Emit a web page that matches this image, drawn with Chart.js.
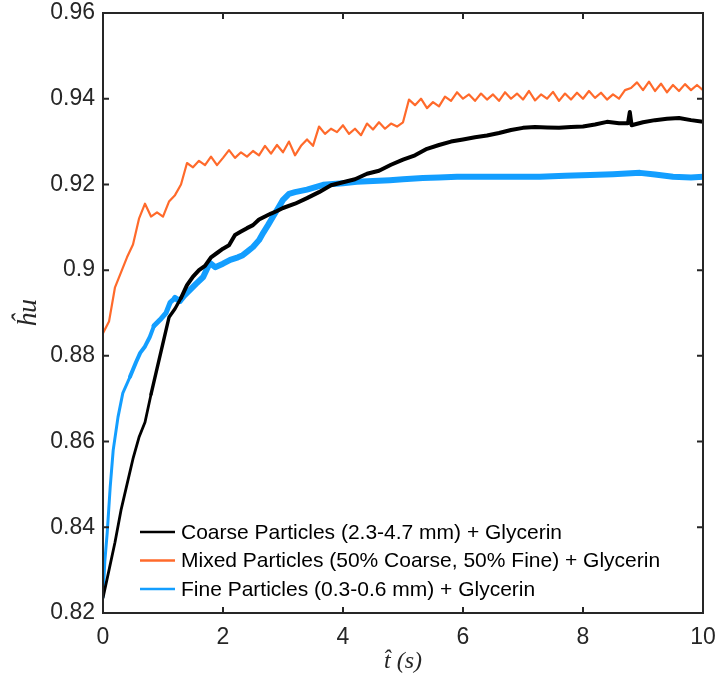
<!DOCTYPE html>
<html>
<head>
<meta charset="utf-8">
<script src="https://cdn.jsdelivr.net/npm/chart.js@4"></script>
<style>
  html, body { margin: 0; padding: 0; background: #fff; }
  #wrap { width: 715px; height: 680px; position: relative; }
</style>
</head>
<body>
<div id="wrap"><canvas id="chart"></canvas></div>
<script>
// Values (t in s, hu normalised)
const seriesLabels = [
    'Coarse Particles (2.3-4.7 mm) + Glycerin',
    'Mixed Particles (50% Coarse, 50% Fine) + Glycerin',
    'Fine Particles (0.3-0.6 mm) + Glycerin'
];

const coarseT = [0, 0.1, 0.2, 0.3, 0.4, 0.5, 0.6, 0.7, 0.8, 0.9, 1.0, 1.1, 1.2, 1.3, 1.4, 1.5, 1.6, 1.7, 1.8, 1.9,
    2.0, 2.1, 2.2, 2.3, 2.4, 2.5, 2.6, 2.7, 2.8, 2.9, 3.0, 3.2, 3.4, 3.6, 3.8, 4.0, 4.2, 4.4, 4.6, 4.8,
    5.0, 5.2, 5.4, 5.6, 5.8, 6.0, 6.2, 6.4, 6.6, 6.8, 7.0, 7.2, 7.4, 7.6, 7.8, 8.0, 8.2, 8.4, 8.6, 8.75,
    8.78, 8.81, 9.0, 9.2, 9.4, 9.6, 9.8, 10.0];
const coarseV = [0.8235, 0.8300, 0.8365, 0.8440, 0.8500, 0.8560, 0.8610, 0.8645, 0.8710, 0.8770, 0.8830, 0.8890, 0.8910, 0.8935, 0.8965, 0.8985, 0.9000, 0.9010, 0.9030, 0.9040,
    0.9050, 0.9058, 0.9082, 0.9090, 0.9098, 0.9105, 0.9118, 0.9125, 0.9132, 0.9138, 0.9145, 0.9155, 0.9168, 0.9182, 0.9198, 0.9205, 0.9212, 0.9225, 0.9232, 0.9246,
    0.9258, 0.9268, 0.9283, 0.9292, 0.9300, 0.9305, 0.9310, 0.9314, 0.9320, 0.9327, 0.9332, 0.9334, 0.9333, 0.9332, 0.9334, 0.9335, 0.9340, 0.9346, 0.9343, 0.9343,
    0.9369, 0.9338, 0.9345, 0.9350, 0.9353, 0.9355, 0.9350, 0.9346];

const mixedT = [0, 0.1, 0.2, 0.3, 0.4, 0.5, 0.6, 0.7, 0.8, 0.9, 1.0, 1.1, 1.2, 1.3, 1.4, 1.5, 1.6, 1.7, 1.8, 1.9,
    2.0, 2.1, 2.2, 2.3, 2.4, 2.5, 2.6, 2.7, 2.8, 2.9, 3.0, 3.1, 3.2, 3.3, 3.4, 3.5, 3.6, 3.7, 3.8, 3.9,
    4.0, 4.1, 4.2, 4.3, 4.4, 4.5, 4.6, 4.7, 4.8, 4.9, 5.0, 5.1, 5.2, 5.3, 5.4, 5.5, 5.6, 5.7, 5.8, 5.9,
    6.0, 6.1, 6.2, 6.3, 6.4, 6.5, 6.6, 6.7, 6.8, 6.9, 7.0, 7.1, 7.2, 7.3, 7.4, 7.5, 7.6, 7.7, 7.8, 7.9,
    8.0, 8.1, 8.2, 8.3, 8.4, 8.5, 8.6, 8.7, 8.8, 8.9, 9.0, 9.1, 9.2, 9.3, 9.4, 9.5, 9.6, 9.7, 9.8, 9.9, 10.0];
const mixedV = [0.8853, 0.8880, 0.8960, 0.8995, 0.9030, 0.9060, 0.9120, 0.9155, 0.9125, 0.9135, 0.9125, 0.9160, 0.9175, 0.9200, 0.9250, 0.9240, 0.9255, 0.9245, 0.9265, 0.9245,
    0.9262, 0.9280, 0.9262, 0.9275, 0.9265, 0.9278, 0.9268, 0.9290, 0.9272, 0.9292, 0.9275, 0.9300, 0.9268, 0.9290, 0.9305, 0.9290, 0.9335, 0.9318, 0.9330, 0.9322,
    0.9338, 0.9318, 0.9330, 0.9315, 0.9342, 0.9328, 0.9345, 0.9330, 0.9342, 0.9335, 0.9345, 0.9398, 0.9385, 0.9400, 0.9378, 0.9392, 0.9382, 0.9405, 0.9395, 0.9415,
    0.9400, 0.9410, 0.9395, 0.9412, 0.9398, 0.9410, 0.9395, 0.9415, 0.9400, 0.9412, 0.9398, 0.9418, 0.9396, 0.9410, 0.9400, 0.9416, 0.9395, 0.9412, 0.9398, 0.9414,
    0.9400, 0.9418, 0.9402, 0.9414, 0.9398, 0.9410, 0.9400, 0.9420, 0.9425, 0.9438, 0.9420, 0.9440, 0.9418, 0.9435, 0.9415, 0.9432, 0.9418, 0.9434, 0.9420, 0.9432, 0.9420];

const fineT = [0, 0.03, 0.07, 0.12, 0.17, 0.25, 0.33, 0.45, 0.55, 0.62, 0.7, 0.78, 0.85, 0.95, 1.05, 1.12, 1.2, 1.28, 1.35, 1.45,
    1.55, 1.67, 1.78, 1.87, 2.0, 2.12, 2.25, 2.33, 2.42, 2.5, 2.6, 2.67, 2.75, 2.83, 2.92, 3.0, 3.1, 3.2, 3.4, 3.67,
    4.0, 4.23, 4.5, 4.78, 5.0, 5.33, 5.6, 5.9, 6.2, 6.45, 6.8, 7.28, 7.7, 8.12, 8.5, 8.95, 9.2, 9.5, 9.8, 10.0];
const fineV = [0.8237, 0.8320, 0.8387, 0.8494, 0.8580, 0.8657, 0.8713, 0.8751, 0.8785, 0.8807, 0.8822, 0.8844, 0.8870, 0.8884, 0.8900, 0.8925, 0.8935, 0.8928, 0.8940, 0.8954,
    0.8968, 0.8984, 0.9017, 0.9007, 0.9015, 0.9024, 0.9030, 0.9035, 0.9045, 0.9054, 0.9070, 0.9087, 0.9105, 0.9124, 0.9145, 0.9164, 0.9178, 0.9182, 0.9188, 0.9199,
    0.9203, 0.9206, 0.9208, 0.9210, 0.9212, 0.9215, 0.9216, 0.9218, 0.9218, 0.9218, 0.9218, 0.9218, 0.9220, 0.9222, 0.9224, 0.9227, 0.9223, 0.9218, 0.9216, 0.9218];

const xTicks = [0, 2, 4, 6, 8, 10];
const yTicks = [0.82, 0.84, 0.86, 0.88, 0.9, 0.92, 0.94, 0.96];

const colors = ['#000000', '#ff6a2b', '#139eff'];
const axisColor = '#262626';
const sansFont = "'Liberation Sans', Arial, Helvetica, sans-serif";
const serifFont = "'Liberation Serif', 'Times New Roman', serif";

const toPoints = (ts, vs) => ts.map((t, i) => ({ x: t, y: vs[i] }));

// Box round the plot with inward tick marks on all four sides
const framePlugin = {
    id: 'frame',
    afterDatasetsDraw(chart) {
        const { ctx, chartArea: a, scales } = chart;
        ctx.save();
        ctx.strokeStyle = axisColor;
        ctx.lineWidth = 2;
        ctx.strokeRect(a.left, a.top, a.right - a.left, a.bottom - a.top);
        ctx.beginPath();
        scales.x.ticks.forEach(t => {
            const px = scales.x.getPixelForValue(t.value);
            ctx.moveTo(px, a.bottom); ctx.lineTo(px, a.bottom - 6);
            ctx.moveTo(px, a.top); ctx.lineTo(px, a.top + 6);
        });
        scales.y.ticks.forEach(t => {
            const py = scales.y.getPixelForValue(t.value);
            ctx.moveTo(a.left, py); ctx.lineTo(a.left + 6, py);
            ctx.moveTo(a.right, py); ctx.lineTo(a.right - 6, py);
        });
        ctx.stroke();
        ctx.restore();
    }
};

// Legend inside the lower-left corner of the plot, no box
const insideLegend = {
    id: 'insideLegend',
    afterDraw(chart) {
        const { ctx, chartArea: a } = chart;
        ctx.save();
        ctx.font = '21px ' + sansFont;
        ctx.textBaseline = 'middle';
        ctx.fillStyle = '#000';
        const x0 = a.left + 37;
        const rowH = 28.5;
        const yStart = a.bottom - 81;
        chart.data.datasets.forEach((ds, i) => {
            const yy = yStart + i * rowH;
            ctx.strokeStyle = ds.borderColor;
            ctx.lineWidth = 2.5;
            ctx.beginPath();
            ctx.moveTo(x0, yy);
            ctx.lineTo(x0 + 35, yy);
            ctx.stroke();
            ctx.fillText(ds.label, x0 + 41, yy + 1);
        });
        ctx.restore();
    }
};

new Chart(document.getElementById('chart'), {
    type: 'line',
    data: {
        datasets: [
            {
                label: seriesLabels[0],
                data: toPoints(coarseT, coarseV),
                borderColor: colors[0],
                borderWidth: 4,
                segment: {
                    borderWidth: c => {
                        const t = c.p0.parsed.x;
                        return t < 0.8 ? 2.8 : t < 1.3 ? 3.4 : 4;
                    }
                }
            },
            {
                label: seriesLabels[1],
                data: toPoints(mixedT, mixedV),
                borderColor: colors[1],
                borderWidth: 2.2
            },
            {
                label: seriesLabels[2],
                data: toPoints(fineT, fineV),
                borderColor: colors[2],
                borderWidth: 6,
                segment: {
                    borderWidth: c => {
                        const t = c.p0.parsed.x;
                        return t < 0.4 ? 3 : t < 0.8 ? 4 : t < 1.2 ? 5 : 6;
                    }
                }
            }
        ]
    },
    options: {
        responsive: true,
        maintainAspectRatio: false,
        animation: false,
        elements: {
            point: { radius: 0 },
            line: { tension: 0, borderJoinStyle: 'round', borderCapStyle: 'round' }
        },
        layout: { padding: { top: 13, right: 12, left: 0, bottom: 0 } },
        plugins: {
            legend: { display: false },
            tooltip: { enabled: false }
        },
        scales: {
            x: {
                type: 'linear',
                min: 0,
                max: 10,
                afterBuildTicks: s => { s.ticks = xTicks.map(v => ({ value: v })); },
                afterFit: s => {
                    s.height = 67;
                    s.paddingLeft = 0;
                    s.paddingRight = 0;
                },
                grid: { display: false, drawTicks: false },
                border: { display: false },
                ticks: {
                    color: axisColor,
                    font: { family: sansFont, size: 23 },
                    padding: 11,
                    maxRotation: 0,
                    callback: v => String(v)
                },
                title: {
                    display: true,
                    text: 't\u0302 (s)',
                    color: axisColor,
                    font: { family: serifFont, size: 24, style: 'italic' },
                    padding: { top: 0, bottom: 4 }
                }
            },
            y: {
                type: 'linear',
                min: 0.82,
                max: 0.96,
                afterBuildTicks: s => { s.ticks = yTicks.map(v => ({ value: v })); },
                afterFit: s => {
                    s.width = 103;
                    s.paddingTop = 0;
                    s.paddingBottom = 0;
                },
                grid: { display: false, drawTicks: false },
                border: { display: false },
                ticks: {
                    color: axisColor,
                    font: { family: sansFont, size: 23 },
                    padding: 8,
                    callback: v => String(Number(v.toFixed(2)))
                },
                title: {
                    display: true,
                    text: '\u0125u',
                    color: axisColor,
                    font: { family: serifFont, size: 28, style: 'italic' },
                    padding: { top: 12, bottom: 0 }
                }
            }
        }
    },
    plugins: [framePlugin, insideLegend]
});
</script>
</body>
</html>
